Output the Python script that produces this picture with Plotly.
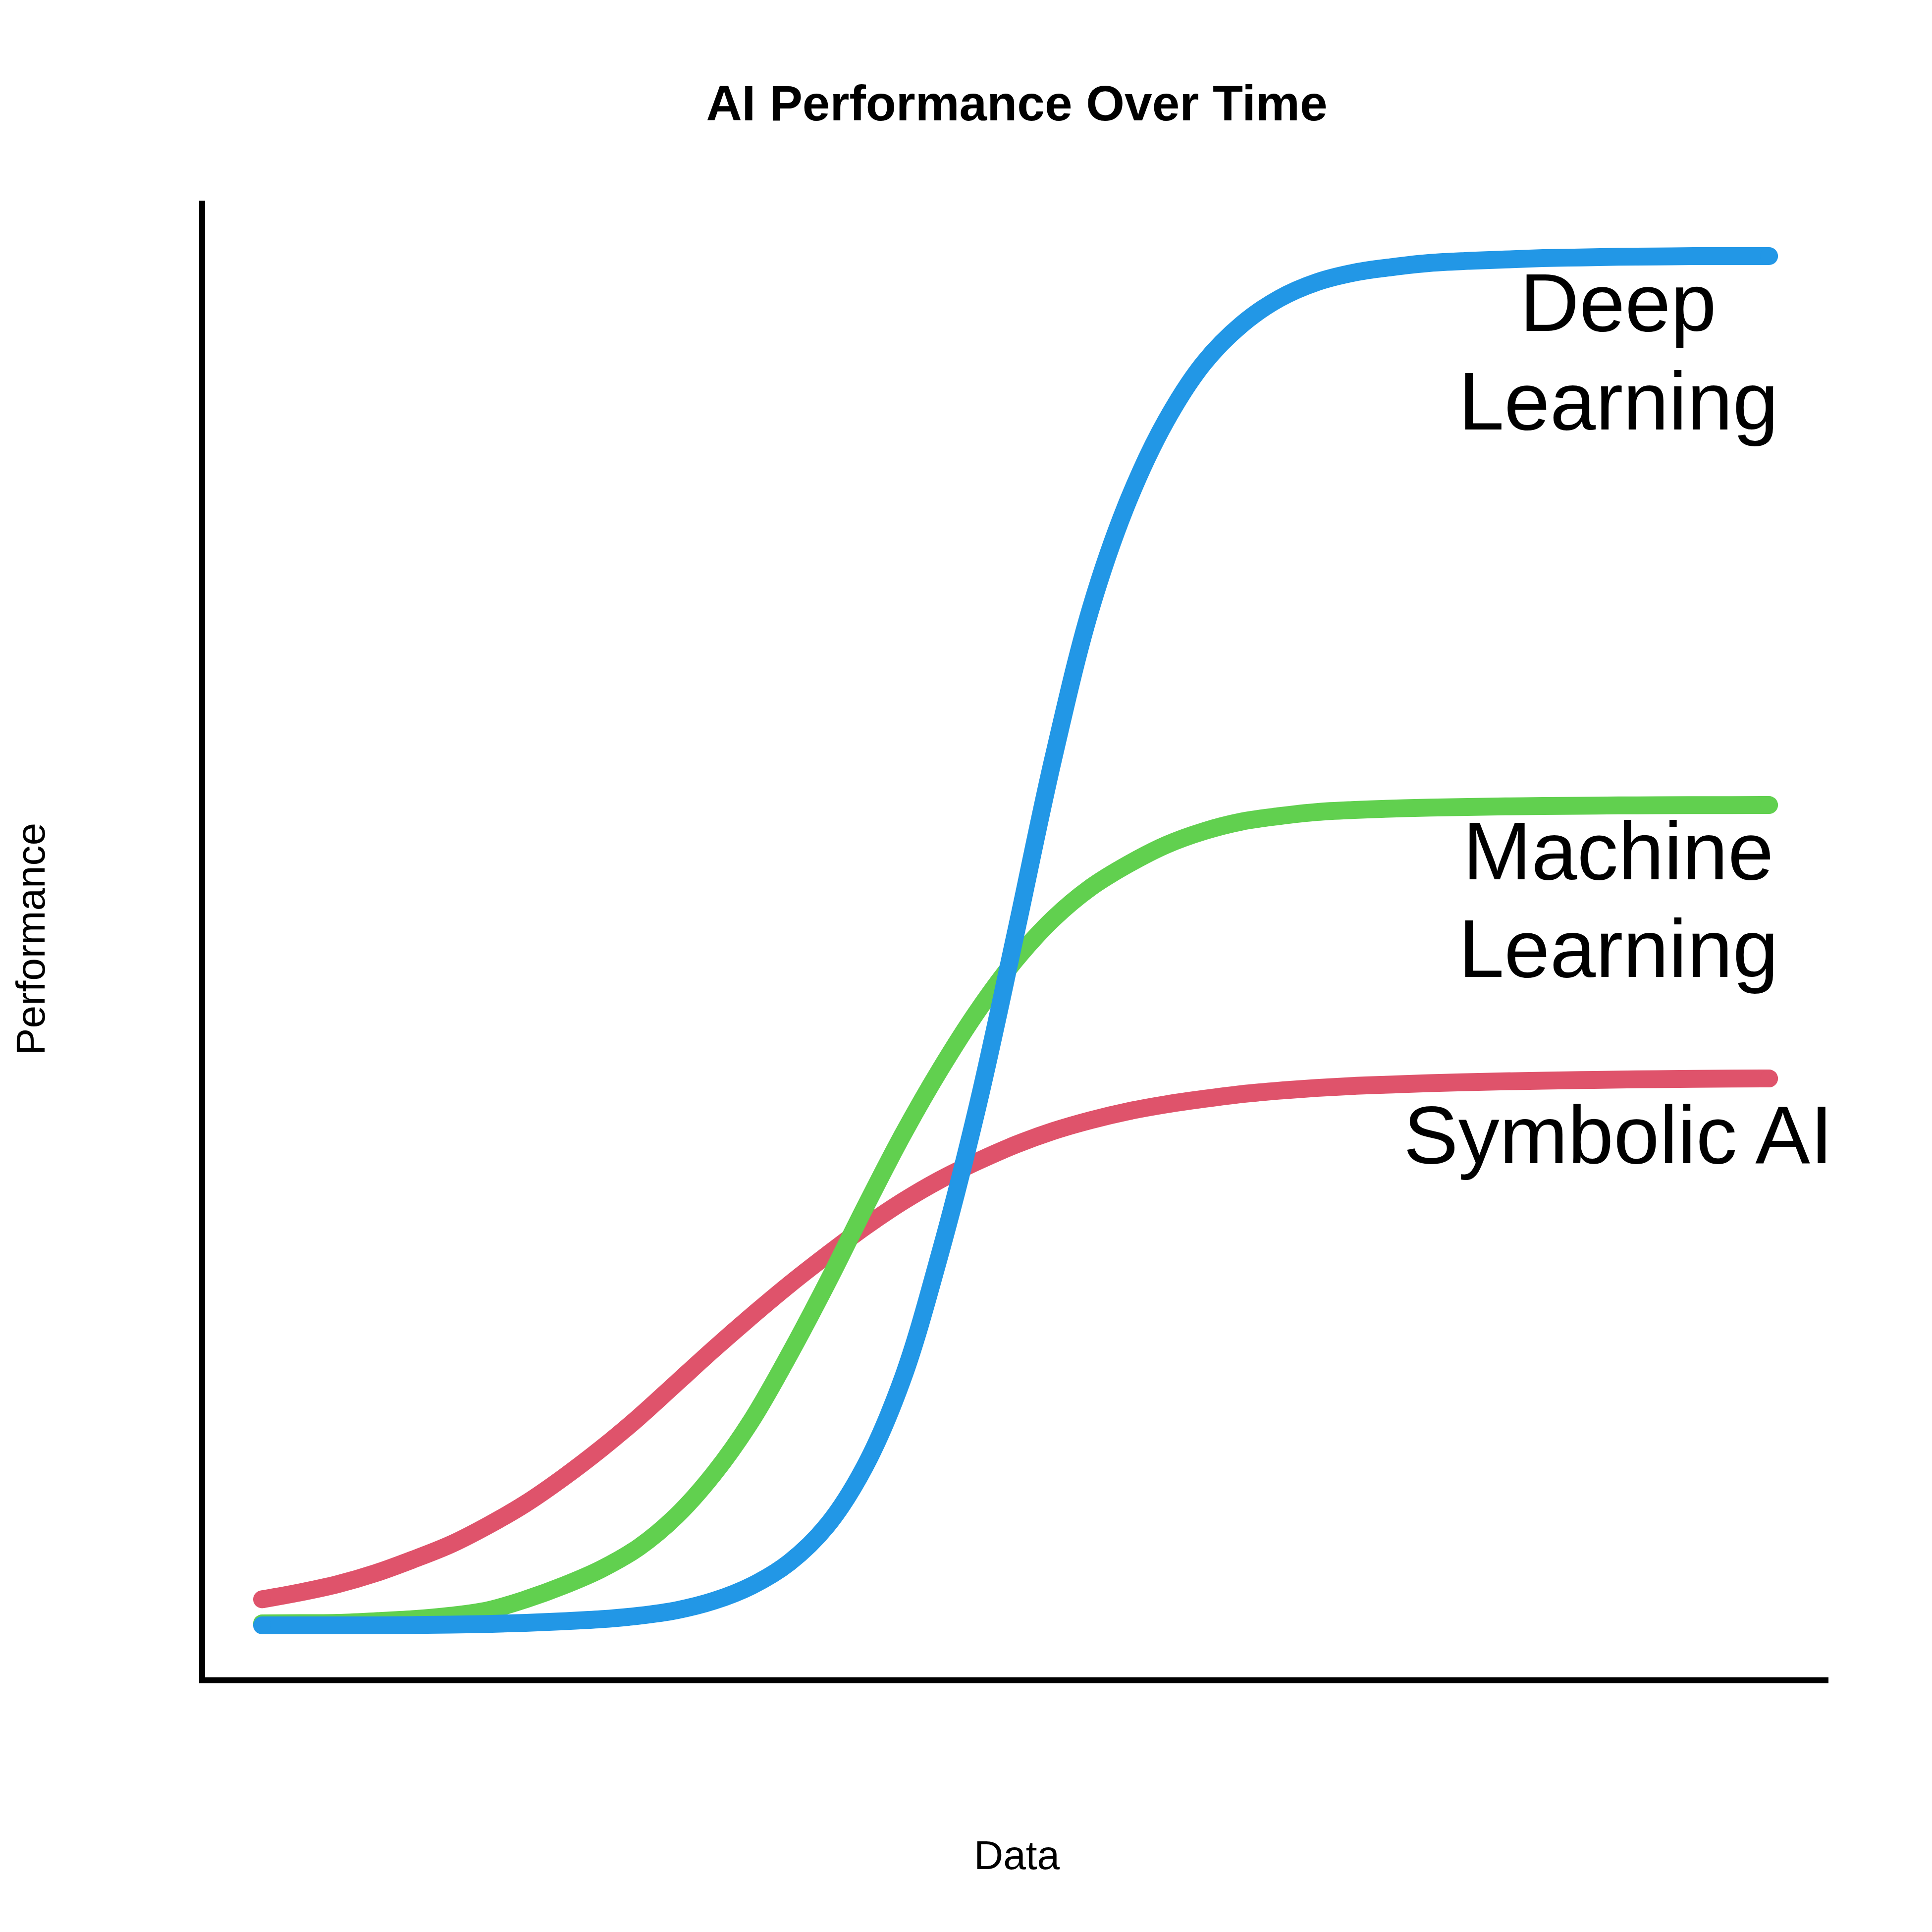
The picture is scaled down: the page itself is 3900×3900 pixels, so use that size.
import plotly.graph_objects as go

# ---- data (x = data amount 0..10, y = performance %) ----
data_x = [0.0, 0.25, 0.5, 0.75, 1.0, 1.25, 1.5, 1.75, 2.0, 2.25, 2.5, 2.75,
          3.0, 3.25, 3.5, 3.75, 4.0, 4.25, 4.5, 4.75, 5.0, 5.25, 5.5, 5.75,
          6.0, 6.25, 6.5, 6.75, 7.0, 7.25, 7.5, 7.75, 8.0, 8.25, 8.5, 8.75,
          9.0, 9.25, 9.5, 9.75, 10.0]

deep_y = [0.0, 0.0, 0.0, 0.0, 0.02, 0.05, 0.1, 0.18, 0.3, 0.45, 0.7, 1.1,
          1.8, 2.9, 4.6, 7.3, 11.6, 18.0, 27.2, 38.0, 50.5, 63.3, 74.3, 82.2,
          88.0, 92.2, 95.0, 96.9, 98.1, 98.8, 99.2, 99.5, 99.65, 99.75, 99.85, 99.9,
          99.95, 99.97, 100.0, 100.0, 100.0]

ml_y = [0.14, 0.16, 0.18, 0.3, 0.45, 0.7, 1.1, 1.9, 2.9, 4.1, 5.7, 8.0,
        11.1, 15.0, 19.8, 25.0, 30.5, 35.8, 40.6, 44.9, 48.6, 51.6, 53.9, 55.6,
        57.0, 58.0, 58.7, 59.1, 59.4, 59.55, 59.65, 59.72, 59.77, 59.81, 59.84, 59.86,
        59.88, 59.89, 59.9, 59.9, 59.91]

sym_y = [1.9, 2.4, 3.0, 3.8, 4.8, 5.9, 7.3, 8.9, 10.8, 12.9, 15.2, 17.7,
         20.2, 22.6, 24.9, 27.05, 29.1, 30.95, 32.55, 33.9, 35.1, 36.1, 36.9, 37.55,
         38.05, 38.45, 38.8, 39.05, 39.25, 39.4, 39.5, 39.6, 39.67, 39.73, 39.78, 39.82,
         39.86, 39.89, 39.91, 39.93, 39.94]

series_names = ["Symbolic AI", "Machine Learning", "Deep Learning"]
series_colors = ["#DF536B", "#61D04F", "#2297E6"]

label_lines = [["Deep", "Learning"], ["Machine", "Learning"], ["Symbolic AI"]]
label_x = 9.0
label_y = [[96.60, 89.40], [56.58, 49.42], [35.85]]

FONT = "Liberation Sans, Arial, Helvetica, sans-serif"

fig = go.Figure()
series = [sym_y, ml_y, deep_y]
for ys, name, color in zip(series, series_names, series_colors):
    fig.add_trace(go.Scatter(
        x=data_x, y=ys, mode="lines", name=name,
        line=dict(color=color, width=36, shape="spline", smoothing=1.0),
        showlegend=False, hoverinfo="skip"))
    # round line caps at both ends
    fig.add_trace(go.Scatter(
        x=[data_x[0], data_x[-1]], y=[ys[0], ys[-1]], mode="markers",
        marker=dict(color=color, size=36, line=dict(width=0)),
        showlegend=False, hoverinfo="skip"))

annotations = []
for lines, ys in zip(label_lines, label_y):
    for txt, yv in zip(lines, ys):
        annotations.append(dict(
            x=label_x, y=yv, xref="x", yref="y", text=txt, showarrow=False,
            xanchor="center", yanchor="middle",
            font=dict(family=FONT, size=166, color="black")))

annotations.append(dict(
    x=0.5, y=-0.1203, xref="paper", yref="paper", text="Data", showarrow=False,
    xanchor="center", yanchor="middle", font=dict(family=FONT, size=82, color="black")))
annotations.append(dict(
    x=-0.1075, y=0.5, xref="paper", yref="paper", text="Performance", showarrow=False,
    textangle=-90, xanchor="center", yanchor="middle",
    font=dict(family=FONT, size=82, color="black")))

axis_common = dict(showgrid=False, zeroline=False, showticklabels=False, ticks="",
                   showline=True, linewidth=12, linecolor="black", mirror=False)

fig.update_layout(
    width=3900, height=3900,
    margin=dict(l=414, r=209, t=405, b=514, pad=0),
    paper_bgcolor="white", plot_bgcolor="white",
    title=dict(text="<b>AI Performance Over Time</b>", x=0.5, xref="paper",
               xanchor="center", y=1 - 208 / 3900, yref="container", yanchor="middle",
               font=dict(family=FONT, size=100, color="black")),
    xaxis=dict(range=[-0.378, 10.394], **axis_common),
    yaxis=dict(range=[-3.80, 104.05], **axis_common),
    annotations=annotations,
    showlegend=False,
)

fig.write_html("out.html")
